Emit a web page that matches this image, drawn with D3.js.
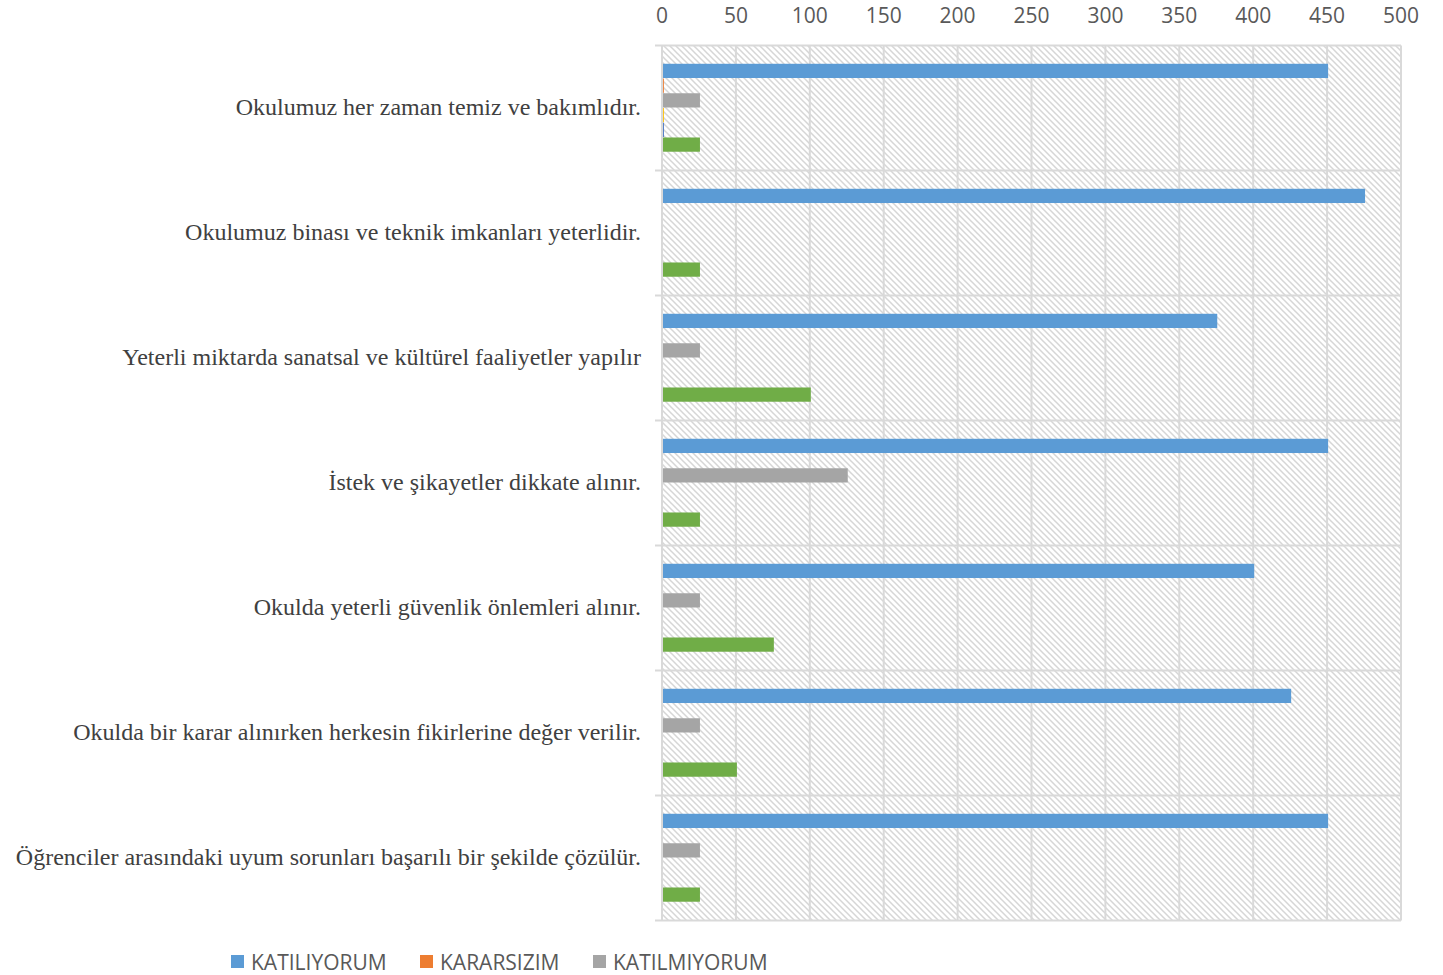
<!DOCTYPE html>
<html>
<head>
<meta charset="utf-8">
<script src="https://cdn.jsdelivr.net/npm/d3@7"></script>
<style>
  body { margin: 0; background: #fff; }
  svg { display: block; }
</style>
</head>
<body>
<div id="chart"></div>
<script>
// categories, top to bottom
var categories = [
  "Okulumuz her zaman temiz ve bakımlıdır.",
  "Okulumuz binası ve teknik imkanları yeterlidir.",
  "Yeterli miktarda sanatsal ve kültürel faaliyetler yapılır",
  "İstek ve şikayetler dikkate alınır.",
  "Okulda yeterli güvenlik önlemleri alınır.",
  "Okulda bir karar alınırken herkesin fikirlerine değer verilir.",
  "Öğrenciler arasındaki uyum sorunları başarılı bir şekilde çözülür."
];
var seriesNames = ["KATILIYORUM", "KARARSIZIM", "KATILMIYORUM", "Seri 4", "Seri 5", "Seri 6"];
var seriesColors = ["#5b9bd5", "#ed7d31", "#a5a5a5", "#ffc000", "#4472c4", "#70ad47"];
var katiliyorum  = [450, 475, 375, 450, 400, 425, 450];
var kararsizim   = [0.6, 0, 0, 0, 0, 0, 0];
var katilmiyorum = [25, 0, 25, 125, 25, 25, 25];
var seri4        = [0.6, 0, 0, 0, 0, 0, 0];
var seri5        = [0.6, 0, 0, 0, 0, 0, 0];
var seri6        = [25, 25, 100, 25, 75, 50, 25];
var xTicks = [0, 50, 100, 150, 200, 250, 300, 350, 400, 450, 500];

var allSeries = [katiliyorum, kararsizim, katilmiyorum, seri4, seri5, seri6];

var W = 1443, H = 975;
var plotLeft = 662, plotRight = 1401, plotTop = 45.5, plotBottom = 920.5;
var gridColor = "#d9d9d9";

var svg = d3.select("#chart").append("svg")
  .attr("width", W).attr("height", H);

// hatch pattern for plot background
var defs = svg.append("defs");
var pat = defs.append("pattern")
  .attr("id", "hatch")
  .attr("patternUnits", "userSpaceOnUse")
  .attr("width", 6).attr("height", 6);
pat.append("rect").attr("width", 6).attr("height", 6).attr("fill", "#fff");
pat.append("path")
  .attr("d", "M-1,-1 L7,7 M-1,5 L1,7 M5,-1 L7,1")
  .attr("stroke", "#d6d6d6").attr("stroke-width", 1.5);

var x = d3.scaleLinear().domain([0, 500]).range([plotLeft, plotRight]);
var y = d3.scaleBand().domain(categories).range([plotTop, plotBottom]).paddingInner(0).paddingOuter(0);
var ySub = d3.scaleBand().domain(d3.range(allSeries.length))
  .range([0, y.bandwidth()]).paddingInner(0).paddingOuter(1.24);

svg.append("rect")
  .attr("x", plotLeft).attr("y", plotTop)
  .attr("width", plotRight - plotLeft).attr("height", plotBottom - plotTop)
  .attr("fill", "url(#hatch)");

// vertical gridlines
svg.append("g").selectAll("line")
  .data(xTicks)
  .enter().append("line")
  .attr("x1", function(d){ return x(d); })
  .attr("x2", function(d){ return x(d); })
  .attr("y1", plotTop).attr("y2", plotBottom)
  .attr("stroke", gridColor).attr("stroke-width", 2);

// horizontal category separators with outer ticks
var seps = categories.map(function(c){ return y(c); }).concat([plotBottom]);
svg.append("g").selectAll("line")
  .data(seps)
  .enter().append("line")
  .attr("x1", plotLeft - 7).attr("x2", plotRight)
  .attr("y1", function(d){ return d; })
  .attr("y2", function(d){ return d; })
  .attr("stroke", gridColor).attr("stroke-width", 2);

// bars
var barData = [];
categories.forEach(function(c, i){
  allSeries.forEach(function(s, j){
    barData.push({cat: c, s: j, v: s[i]});
  });
});
svg.append("g").selectAll("rect")
  .data(barData.filter(function(d){ return d.v > 0; }))
  .enter().append("rect")
  .attr("x", x(0) + 1)
  .attr("y", function(d){ return y(d.cat) + ySub(d.s); })
  .attr("width", function(d){ return x(d.v) - x(0); })
  .attr("height", ySub.bandwidth() - 0.5)
  .attr("fill", function(d){ return seriesColors[d.s]; });

// top axis labels
svg.append("g").selectAll("text")
  .data(xTicks)
  .enter().append("text")
  .attr("x", function(d){ return x(d); })
  .attr("y", 23)
  .attr("text-anchor", "middle")
  .attr("font-family", "'Open Sans', sans-serif")
  .attr("font-size", 21)
  .attr("fill", "#595959")
  .text(String);

// category labels
svg.append("g").selectAll("text")
  .data(categories)
  .enter().append("text")
  .attr("x", 641)
  .attr("y", function(d){ return y(d) + y.bandwidth() / 2; })
  .attr("dy", "0.3em")
  .attr("text-anchor", "end")
  .attr("font-family", "'Liberation Serif', 'Times New Roman', serif")
  .attr("font-size", 24)
  .attr("fill", "#404040")
  .text(String);

// legend (three per row, later rows fall below the visible area)
var legX = [231, 420, 593];
var leg = svg.append("g").selectAll("g")
  .data(seriesNames)
  .enter().append("g")
  .attr("transform", function(d, i){
    return "translate(" + legX[i % 3] + "," + (955 + Math.floor(i / 3) * 30) + ")";
  });
leg.append("rect")
  .attr("width", 13).attr("height", 13)
  .attr("fill", function(d, i){ return seriesColors[i]; });
leg.append("text")
  .attr("x", 20).attr("y", 15)
  .attr("font-family", "'Open Sans', sans-serif")
  .attr("font-size", 21)
  .attr("fill", "#595959")
  .text(String);
</script>
</body>
</html>
